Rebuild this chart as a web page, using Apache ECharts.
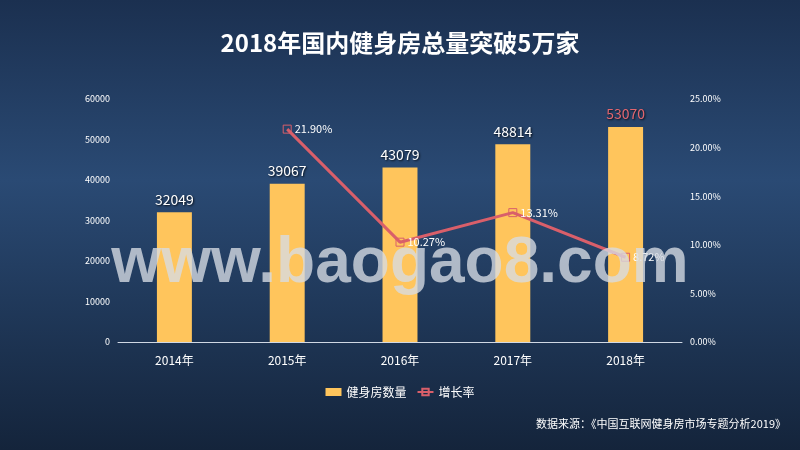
<!DOCTYPE html>
<html><head><meta charset="utf-8">
<script src="https://cdn.jsdelivr.net/npm/echarts@6/dist/echarts.min.js"></script>
<style>html,body{margin:0;padding:0;}#c{width:800px;height:450px;}</style>
</head><body><div id="c"></div>
<script>
const categories = ['2014年','2015年','2016年','2017年','2018年'];
const gymCounts = [32049, 39067, 43079, 48814, 53070];
const growthRates = [null, 21.90, 10.27, 13.31, 8.72];
const leftTicks = [0, 10000, 20000, 30000, 40000, 50000, 60000];
const rightTicks = [0, 5, 10, 15, 20, 25];

const chart = echarts.init(document.getElementById('c'));
const font = '"Noto Sans CJK SC", "Liberation Sans", sans-serif';
chart.setOption({
  backgroundColor: {
    type: 'linear', x: 0, y: 0, x2: 0, y2: 1,
    colorStops: [
      {offset: 0, color: '#1b3050'},
      {offset: 0.4, color: '#2a4a74'},
      {offset: 1, color: '#14243b'}
    ]
  },
  title: {
    text: '2018年国内健身房总量突破5万家',
    left: 'center', top: 26,
    textStyle: {color: '#ffffff', fontSize: 24, fontWeight: 'bold', fontFamily: font}
  },
  legend: {
    bottom: 47, left: 'center',
    itemWidth: 16, itemHeight: 8, itemGap: 10,
    textStyle: {color: '#ffffff', fontSize: 12, fontFamily: font},
    data: [{name: '健身房数量', icon: 'rect'}, {name: '增长率'}]
  },
  grid: {left: 118, right: 118, top: 99, bottom: 108, containLabel: false},
  xAxis: {
    type: 'category', data: categories,
    axisLine: {lineStyle: {color: '#d0d8e4', width: 1}},
    axisTick: {show: false},
    axisLabel: {color: '#ffffff', fontSize: 12, margin: 12, fontFamily: font}
  },
  yAxis: [
    {type: 'value', min: 0, max: 60000, interval: 10000,
     axisLine: {show: false}, axisTick: {show: false}, splitLine: {show: false},
     axisLabel: {color: '#ffffff', fontSize: 9, margin: 8, fontFamily: font,
       formatter: v => String(v)}},
    {type: 'value', min: 0, max: 25, interval: 5,
     axisLine: {show: false}, axisTick: {show: false}, splitLine: {show: false},
     axisLabel: {color: '#ffffff', fontSize: 9, margin: 8, fontFamily: font,
       formatter: v => v.toFixed(2) + '%'}}
  ],
  series: [
    {name: '健身房数量', type: 'bar', data: gymCounts.map((v, i) => i === 4 ? {value: v, label: {color: '#e3666f'}} : v),
     barWidth: '31%',
     itemStyle: {color: '#ffc55c'},
     label: {show: true, position: 'top', color: '#ffffff', fontSize: 14, distance: 6,
       fontFamily: font, textShadowColor: 'rgba(0,0,0,0.8)', textShadowBlur: 2, textShadowOffsetX: 1, textShadowOffsetY: 1}},
    {name: '增长率', type: 'line', yAxisIndex: 1, data: growthRates,
     symbol: 'rect', symbolSize: 8, showSymbol: true,
     lineStyle: {color: '#d95f6a', width: 3},
     itemStyle: {color: 'transparent', borderColor: '#d95f6a', borderWidth: 1},
     label: {show: true, position: 'right', distance: 3, color: '#ffffff', fontSize: 11, fontFamily: font,
       formatter: p => p.value.toFixed(2) + '%'}}
  ],
  graphic: [
    {type: 'text', left: 'center', top: 232, z: 100,
     style: {text: 'www.baogao8.com', fill: 'rgba(215,220,228,0.78)',
       font: 'bold 64px "Liberation Sans", Arial, sans-serif'}},
    {type: 'text', right: 14, top: 418,
     style: {text: '数据来源：《中国互联网健身房市场专题分析2019》', fill: '#ffffff',
       font: '11px "Noto Sans CJK SC", sans-serif'}}
  ]
});
</script></body></html>
